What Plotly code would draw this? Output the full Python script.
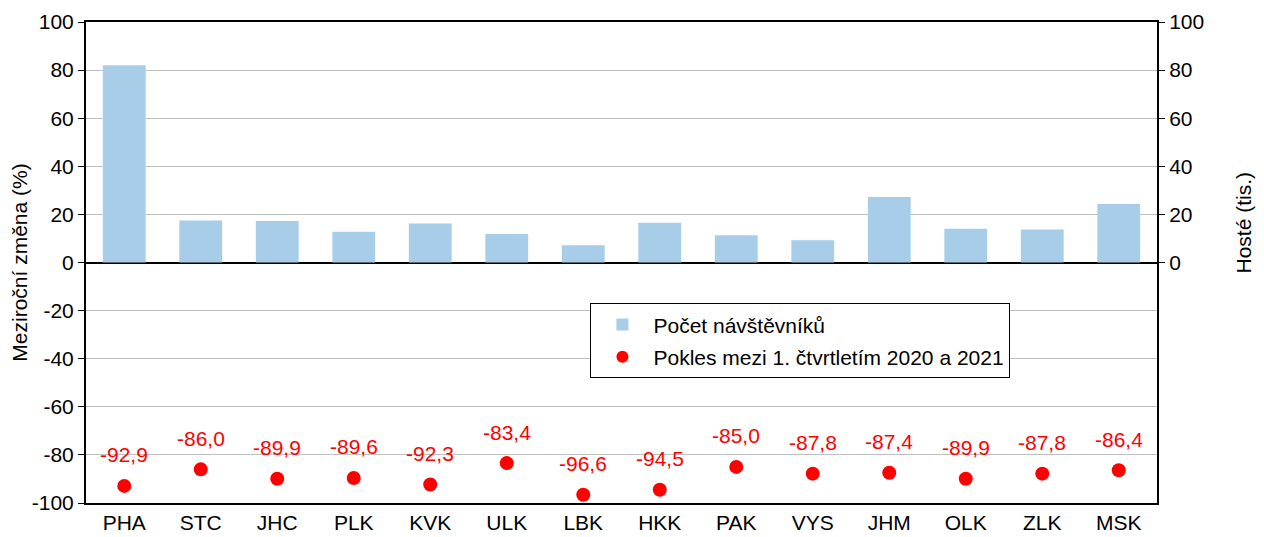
import plotly.graph_objects as go

regions = ["PHA", "STC", "JHC", "PLK", "KVK", "ULK", "LBK", "HKK", "PAK", "VYS", "JHM", "OLK", "ZLK", "MSK"]
guests = [82.0, 17.5, 17.3, 12.8, 16.2, 11.8, 7.2, 16.5, 11.3, 9.3, 27.2, 14.0, 13.7, 24.3]
decline = [-92.9, -86.0, -89.9, -89.6, -92.3, -83.4, -96.6, -94.5, -85.0, -87.8, -87.4, -89.9, -87.8, -86.4]
left_ticks = [-100, -80, -60, -40, -20, 0, 20, 40, 60, 80, 100]
right_ticks = [0, 20, 40, 60, 80, 100]

FONT = "Liberation Sans, Arial, sans-serif"
FS = 21

fig = go.Figure()
fig.add_trace(go.Bar(
    x=regions, y=guests, name="Počet návštěvníků",
    marker=dict(color="#a7cde8", line=dict(width=0)),
    width=0.56, yaxis="y2", legendgroup="a",
))
fig.add_trace(go.Scatter(
    x=regions, y=decline, name="Pokles mezi 1. čtvrtletím 2020 a 2021",
    mode="markers", marker=dict(color="#ff0000", size=14), legendgroup="b",
))
for r, v in zip(regions, decline):
    fig.add_annotation(
        x=r, y=v, text=f"{v:.1f}".replace(".", ","), showarrow=False,
        yshift=31, font=dict(color="#ff0000", size=FS, family=FONT),
    )

fig.add_annotation(
    xref="paper", yref="paper", x=1.0, xshift=86, y=0.5, yshift=40,
    xanchor="center", yanchor="middle", text="Hosté (tis.)",
    textangle=-90, showarrow=False, font=dict(size=FS, family=FONT, color="black"),
)

fig.update_layout(
    width=1256, height=529,
    margin=dict(l=78, r=107, t=14, b=34),
    paper_bgcolor="white", plot_bgcolor="white",
    font=dict(family=FONT, size=FS, color="black"),
    showlegend=True,
    legend=dict(
        x=0.471, y=0.415, xanchor="left", yanchor="top",
        bgcolor="white", bordercolor="black", borderwidth=1,
        font=dict(size=FS, family=FONT), itemsizing="constant",
        traceorder="grouped", tracegroupgap=2, itemwidth=52,
    ),
    xaxis=dict(
        range=[-0.5, len(regions) - 0.5],
        showline=True, linecolor="black", linewidth=2, mirror=True,
        ticks="", tickfont=dict(size=FS), showgrid=False, automargin=False,
    ),
    yaxis=dict(
        range=[-100, 100], tickvals=left_ticks, ticktext=[str(t) for t in left_ticks],
        showline=True, linecolor="black", linewidth=2,
        ticks="outside", ticklen=6, tickcolor="black", tickwidth=1,
        showgrid=True, gridcolor="#c0c0c0", gridwidth=1,
        zeroline=True, zerolinecolor="black", zerolinewidth=2,
        tickfont=dict(size=FS), automargin=False,
        title=dict(text="Meziroční změna (%)", font=dict(size=FS), standoff=10),
    ),
    yaxis2=dict(
        range=[-100, 100], tickvals=right_ticks, ticktext=[str(t) for t in right_ticks],
        overlaying="y", side="right",
        showline=True, linecolor="black", linewidth=2,
        ticks="outside", ticklen=6, tickcolor="black", tickwidth=1,
        showgrid=False, zeroline=False,
        tickfont=dict(size=FS), automargin=False,
    ),
)

fig.write_html("out.html")
